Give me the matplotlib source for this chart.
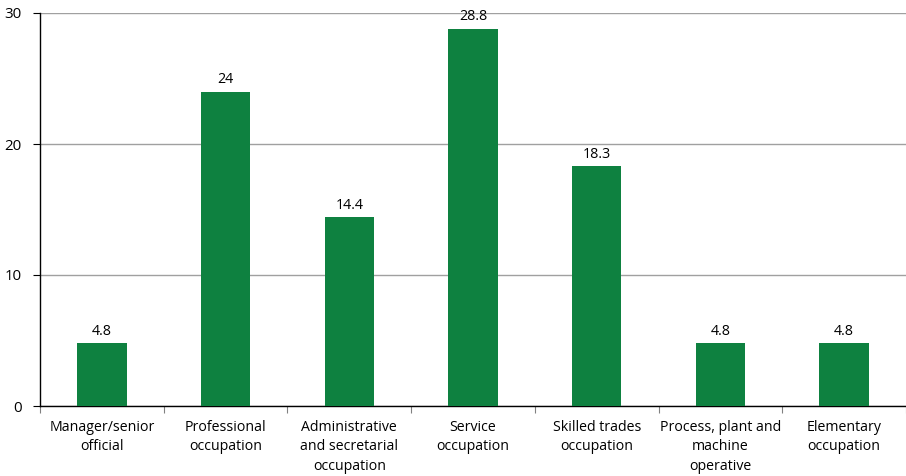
import matplotlib.pyplot as plt
import numpy as np

categories = ['Manager/senior\nofficial', 'Professional\noccupation',
              'Administrative\nand secretarial\noccupation', 'Service\noccupation',
              'Skilled trades\noccupation', 'Process, plant and\nmachine\noperative',
              'Elementary\noccupation']
values = [4.8, 24, 14.4, 28.8, 18.3, 4.8, 4.8]
value_labels = ['4.8', '24', '14.4', '28.8', '18.3', '4.8', '4.8']
y_ticks = [0, 10, 20, 30]

plt.rcParams['font.family'] = ['Open Sans', 'DejaVu Sans']

fig = plt.figure(figsize=(9.06, 4.76), dpi=100)
ax = fig.add_axes([40 / 906, 70 / 476, 866 / 906, 393 / 476])

x = np.arange(len(categories))
bars = ax.bar(x, values, width=0.4, color='#0e8140', zorder=3)
for b, lab in zip(bars, value_labels):
    ax.text(b.get_x() + b.get_width() / 2, b.get_height() + 0.35, lab,
            ha='center', va='bottom', fontsize=10.3)

ax.set_xlim(-0.5, len(categories) - 0.5)
ax.set_ylim(0, 30)
ax.set_yticks(y_ticks)
ax.set_yticklabels([str(t) for t in y_ticks], fontsize=10.8)
ax.yaxis.grid(True, color='#a0a0a0', linewidth=1, zorder=0)

ax.set_xticks(np.arange(len(categories) + 1) - 0.5)
ax.set_xticklabels([])
ax.set_xticks(x, minor=True)
ax.set_xticklabels(categories, minor=True, fontsize=10.2, linespacing=1.4)
ax.tick_params(axis='x', which='minor', length=0, pad=10)
ax.tick_params(axis='x', which='major', length=5, color='#808080')
ax.tick_params(axis='y', length=5, pad=8)

for s in ['top', 'right']:
    ax.spines[s].set_visible(False)
ax.spines['left'].set_linewidth(1)
ax.spines['bottom'].set_linewidth(1)

fig.savefig('out.png', dpi=100)
